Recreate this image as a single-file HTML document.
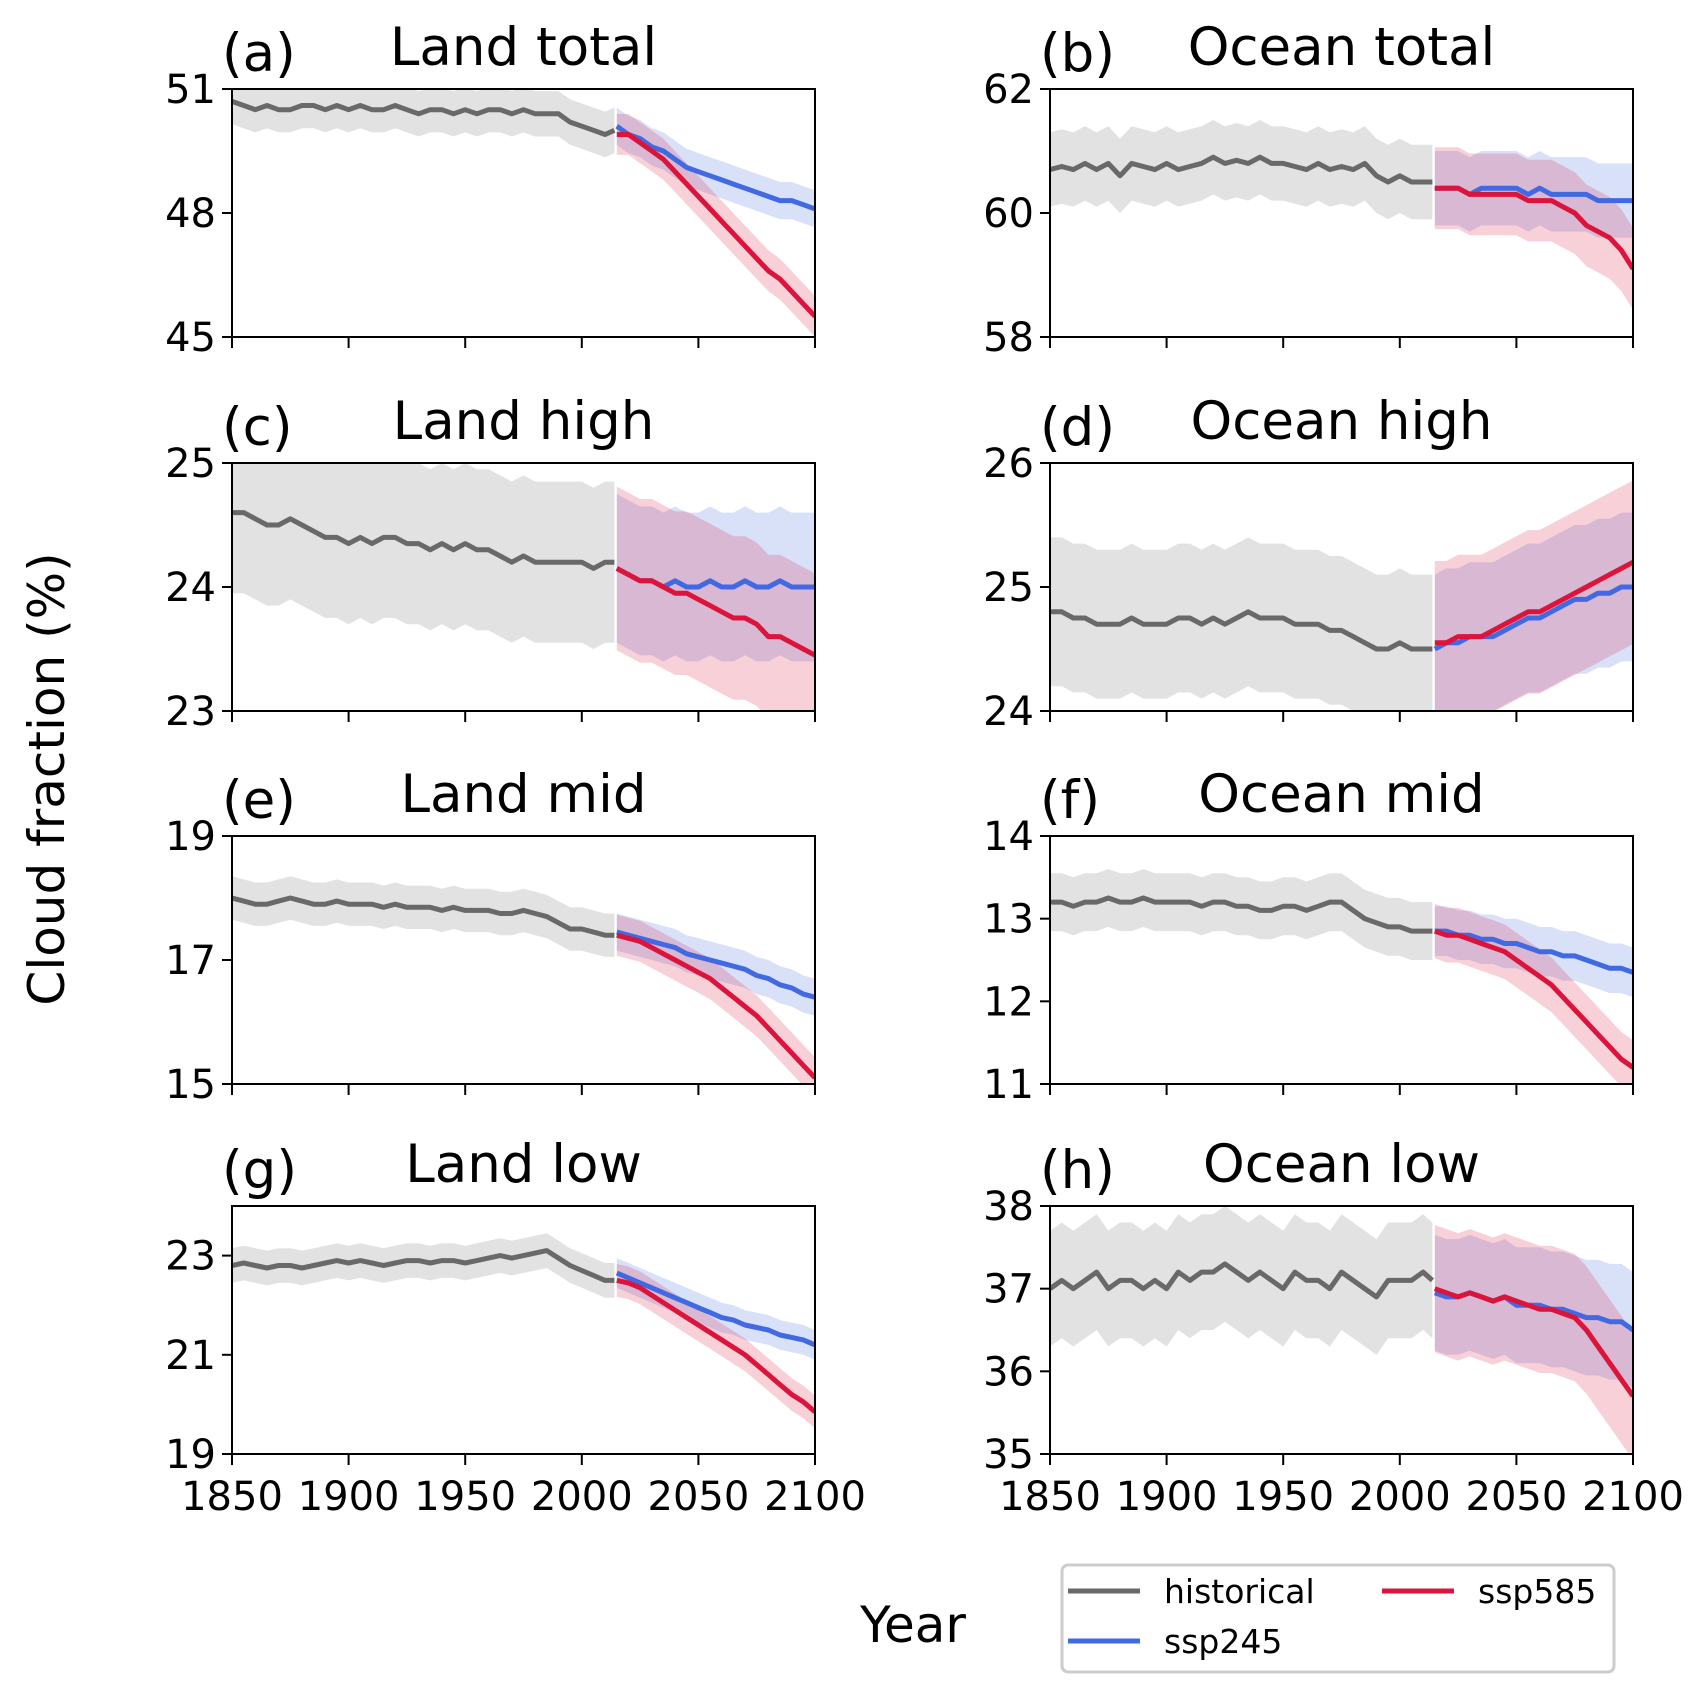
<!DOCTYPE html>
<html><head><meta charset="utf-8">
<style>
html,body{margin:0;padding:0;background:#fff;}
svg{display:block;font-family:"DejaVu Sans","Liberation Sans",sans-serif;}
</style></head>
<body>
<svg id="fig" width="1700" height="1700" viewBox="0 0 1700 1700"></svg>
<script>
// ---- data (5-year resolution) ----
const histYears = [1850,1855,1860,1865,1870,1875,1880,1885,1890,1895,1900,1905,1910,1915,1920,1925,1930,1935,1940,1945,1950,1955,1960,1965,1970,1975,1980,1985,1990,1995,2000,2005,2010,2014];
const sspYears = [2015,2020,2025,2030,2035,2040,2045,2050,2055,2060,2065,2070,2075,2080,2085,2090,2095,2100];
const panelTitles = ["Land total","Ocean total","Land high","Ocean high","Land mid","Ocean mid","Land low","Ocean low"];
const panelLetters = ["(a)","(b)","(c)","(d)","(e)","(f)","(g)","(h)"];
const yRanges = [[45,51],[58,62],[23,25],[24,26],[15,19],[11,14],[19,24],[35,38]];
const yTicks = [[45,48,51],[58,60,62],[23,24,25],[24,25,26],[15,17,19],[11,12,13,14],[19,21,23],[35,36,37,38]];
const xTicks = [1850,1900,1950,2000,2050,2100];
const histA = [50.7,50.6,50.5,50.6,50.5,50.5,50.6,50.6,50.5,50.6,50.5,50.6,50.5,50.5,50.6,50.5,50.4,50.5,50.5,50.4,50.5,50.4,50.5,50.5,50.4,50.5,50.4,50.4,50.4,50.2,50.1,50.0,49.9,50.0];
const s245A = [50.1,49.9,49.8,49.6,49.5,49.3,49.1,49.0,48.9,48.8,48.7,48.6,48.5,48.4,48.3,48.3,48.2,48.1];
const s585A = [49.9,49.9,49.7,49.5,49.3,49.0,48.7,48.4,48.1,47.8,47.5,47.2,46.9,46.6,46.4,46.1,45.8,45.5];
const histB = [60.7,60.75,60.7,60.8,60.7,60.8,60.6,60.8,60.75,60.7,60.8,60.7,60.75,60.8,60.9,60.8,60.85,60.8,60.9,60.8,60.8,60.75,60.7,60.8,60.7,60.75,60.7,60.8,60.6,60.5,60.6,60.5,60.5,60.5];
const s245B = [60.4,60.4,60.4,60.3,60.4,60.4,60.4,60.4,60.3,60.4,60.3,60.3,60.3,60.3,60.2,60.2,60.2,60.2];
const s585B = [60.4,60.4,60.4,60.3,60.3,60.3,60.3,60.3,60.2,60.2,60.2,60.1,60.0,59.8,59.7,59.6,59.4,59.1];
const histC = [24.6,24.6,24.55,24.5,24.5,24.55,24.5,24.45,24.4,24.4,24.35,24.4,24.35,24.4,24.4,24.35,24.35,24.3,24.35,24.3,24.35,24.3,24.3,24.25,24.2,24.25,24.2,24.2,24.2,24.2,24.2,24.15,24.2,24.2];
const s245C = [24.15,24.1,24.05,24.05,24.0,24.05,24.0,24.0,24.05,24.0,24.0,24.05,24.0,24.0,24.05,24.0,24.0,24.0];
const s585C = [24.15,24.1,24.05,24.05,24.0,23.95,23.95,23.9,23.85,23.8,23.75,23.75,23.7,23.6,23.6,23.55,23.5,23.45];
const histD = [24.8,24.8,24.75,24.75,24.7,24.7,24.7,24.75,24.7,24.7,24.7,24.75,24.75,24.7,24.75,24.7,24.75,24.8,24.75,24.75,24.75,24.7,24.7,24.7,24.65,24.65,24.6,24.55,24.5,24.5,24.55,24.5,24.5,24.5];
const s245D = [24.5,24.55,24.55,24.6,24.6,24.6,24.65,24.7,24.75,24.75,24.8,24.85,24.9,24.9,24.95,24.95,25.0,25.0];
const s585D = [24.55,24.55,24.6,24.6,24.6,24.65,24.7,24.75,24.8,24.8,24.85,24.9,24.95,25.0,25.05,25.1,25.15,25.2];
const histE = [18.0,17.95,17.9,17.9,17.95,18.0,17.95,17.9,17.9,17.95,17.9,17.9,17.9,17.85,17.9,17.85,17.85,17.85,17.8,17.85,17.8,17.8,17.8,17.75,17.75,17.8,17.75,17.7,17.6,17.5,17.5,17.45,17.4,17.4];
const s245E = [17.45,17.4,17.35,17.3,17.25,17.2,17.1,17.05,17.0,16.95,16.9,16.85,16.75,16.7,16.6,16.55,16.45,16.4];
const s585E = [17.4,17.35,17.3,17.2,17.1,17.0,16.9,16.8,16.7,16.55,16.4,16.25,16.1,15.9,15.7,15.5,15.3,15.1];
const histF = [13.2,13.2,13.15,13.2,13.2,13.25,13.2,13.2,13.25,13.2,13.2,13.2,13.2,13.15,13.2,13.2,13.15,13.15,13.1,13.1,13.15,13.15,13.1,13.15,13.2,13.2,13.1,13.0,12.95,12.9,12.9,12.85,12.85,12.85];
const s245F = [12.85,12.85,12.8,12.8,12.75,12.75,12.7,12.7,12.65,12.6,12.6,12.55,12.55,12.5,12.45,12.4,12.4,12.35];
const s585F = [12.85,12.8,12.8,12.75,12.7,12.65,12.6,12.5,12.4,12.3,12.2,12.05,11.9,11.75,11.6,11.45,11.3,11.2];
const histG = [22.8,22.85,22.8,22.75,22.8,22.8,22.75,22.8,22.85,22.9,22.85,22.9,22.85,22.8,22.85,22.9,22.9,22.85,22.9,22.9,22.85,22.9,22.95,23.0,22.95,23.0,23.05,23.1,22.95,22.8,22.7,22.6,22.5,22.5];
const s245G = [22.65,22.55,22.45,22.35,22.25,22.15,22.05,21.95,21.85,21.75,21.7,21.6,21.55,21.5,21.4,21.35,21.3,21.2];
const s585G = [22.5,22.45,22.35,22.2,22.05,21.9,21.75,21.6,21.45,21.3,21.15,21.0,20.8,20.6,20.4,20.2,20.05,19.85];
const histH = [37.0,37.1,37.0,37.1,37.2,37.0,37.1,37.1,37.0,37.1,37.0,37.2,37.1,37.2,37.2,37.3,37.2,37.1,37.2,37.1,37.0,37.2,37.1,37.1,37.0,37.2,37.1,37.0,36.9,37.1,37.1,37.1,37.2,37.1];
const s245H = [36.95,36.9,36.9,36.95,36.9,36.85,36.9,36.8,36.8,36.8,36.75,36.75,36.7,36.65,36.65,36.6,36.6,36.5];
const s585H = [37.0,36.95,36.9,36.95,36.9,36.85,36.9,36.85,36.8,36.75,36.75,36.7,36.65,36.5,36.3,36.1,35.9,35.7];
const histSpread = [0.55,0.6,0.65,0.6,0.35,0.35,0.35,0.7];
const sspSpread = [0.45,0.6,0.6,0.6,0.3,0.3,0.3,0.7];
const histSeries = [histA,histB,histC,histD,histE,histF,histG,histH];
const s245Series = [s245A,s245B,s245C,s245D,s245E,s245F,s245G,s245H];
const s585Series = [s585A,s585B,s585C,s585D,s585E,s585F,s585G,s585H];

const NS = "http://www.w3.org/2000/svg";
const svg = document.getElementById("fig");
function mk(tag, attrs, parent){
  const e = document.createElementNS(NS, tag);
  for (const k in attrs) e.setAttribute(k, attrs[k]);
  (parent||svg).appendChild(e);
  return e;
}
const colX = [232, 1050], axW = 583;
const rowY = [89, 463, 836, 1206], axH = 248;

for (let p = 0; p < 8; p++){
  const col = p % 2, row = Math.floor(p/2);
  const L = colX[col], T = rowY[row], R = L+axW, B = T+axH;
  const [y0,y1] = yRanges[p];
  const sx = v => L + (v-1850)/(2100-1850)*axW;
  const sy = v => B - (v-y0)/(y1-y0)*axH;
  const g = mk("g", {});
  
  
  const cid = "clip"+p;
  const cp = mk("clipPath", {id:cid}, g);
  mk("rect", {x:L, y:T, width:axW, height:axH}, cp);
  const pg = mk("g", {"clip-path":"url(#"+cid+")"}, g);
  function band(years, vals, sp, fill, op, name){
    let d = "";
    years.forEach((y,i)=>{ d += (i?"L":"M")+sx(y).toFixed(1)+","+sy(vals[i]+sp).toFixed(1); });
    for (let i=years.length-1;i>=0;i--) d += "L"+sx(years[i]).toFixed(1)+","+sy(vals[i]-sp).toFixed(1);
    const e = mk("path", {d:d+"Z", fill:fill, "fill-opacity":op, stroke:"none"}, pg);
    
    
  }
  function line(years, vals, color, name){
    const d = years.map((y,i)=>(i?"L":"M")+sx(y).toFixed(1)+","+sy(vals[i]).toFixed(1)).join("");
    const e = mk("path", {d:d, fill:"none", stroke:color, "stroke-width":5, "stroke-linejoin":"round"}, pg);
    
    
  }
  band(histYears, histSeries[p], histSpread[p], "#d3d3d3", 0.65, "historical-band");
  band(sspYears, s245Series[p], sspSpread[p], "#4169e1", 0.2, "ssp245-band");
  band(sspYears, s585Series[p], sspSpread[p]*1.1, "#dc143c", 0.2, "ssp585-band");
  line(histYears, histSeries[p], "#696969", "historical-line");
  line(sspYears, s245Series[p], "#4169e1", "ssp245-line");
  line(sspYears, s585Series[p], "#dc143c", "ssp585-line");
  const fr = mk("rect", {x:L, y:T, width:axW, height:axH, fill:"none", stroke:"#000", "stroke-width":2}, g);
  
  
  yTicks[p].forEach(v=>{
    mk("line", {x1:L-10, x2:L, y1:sy(v), y2:sy(v), stroke:"#000", "stroke-width":2}, g);
    const t = mk("text", {x:L-16, y:sy(v)+14, "text-anchor":"end", "font-size":40, fill:"#000"}, g);
    t.textContent = v;
    
    
  });
  xTicks.forEach(v=>{
    mk("line", {x1:sx(v), x2:sx(v), y1:B, y2:B+11, stroke:"#000", "stroke-width":2}, g);
    if (row === 3){
      const t = mk("text", {x:sx(v), y:B+56, "text-anchor":"middle", "font-size":40, fill:"#000"}, g);
      t.textContent = v;
      
      
    }
  });
  const ti = mk("text", {x:L+axW/2, y:T-24, "text-anchor":"middle", "font-size":53, fill:"#000"}, g);
  ti.textContent = panelTitles[p];
  
  
  const lt = mk("text", {x:L-10, y:T-18, "text-anchor":"start", "font-size":53, fill:"#000"}, g);
  lt.textContent = panelLetters[p];
  
  
}
// axis labels
const yl = mk("text", {x:0, y:0, transform:"translate(64,779) rotate(-90)", "text-anchor":"middle", "font-size":50, fill:"#000"});
yl.textContent = "Cloud fraction (%)";


const xl = mk("text", {x:913, y:1642, "text-anchor":"middle", "font-size":50, fill:"#000"});
xl.textContent = "Year";


// legend
const lg = mk("g", {});


mk("rect", {x:1062, y:1565, width:552, height:107, rx:6, fill:"#fff", stroke:"#cccccc", "stroke-width":3}, lg);
const legItems = [["historical","#696969",1068,1591],["ssp245","#4169e1",1068,1641],["ssp585","#dc143c",1382,1591]];
legItems.forEach(it=>{
  const ln = mk("line", {x1:it[2], x2:it[2]+72, y1:it[3], y2:it[3], stroke:it[1], "stroke-width":5}, lg);
  
  
  const t = mk("text", {x:it[2]+96, y:it[3]+12, "font-size":33, fill:"#000"}, lg);
  t.textContent = it[0];
  
  
});
</script>
</body></html>
